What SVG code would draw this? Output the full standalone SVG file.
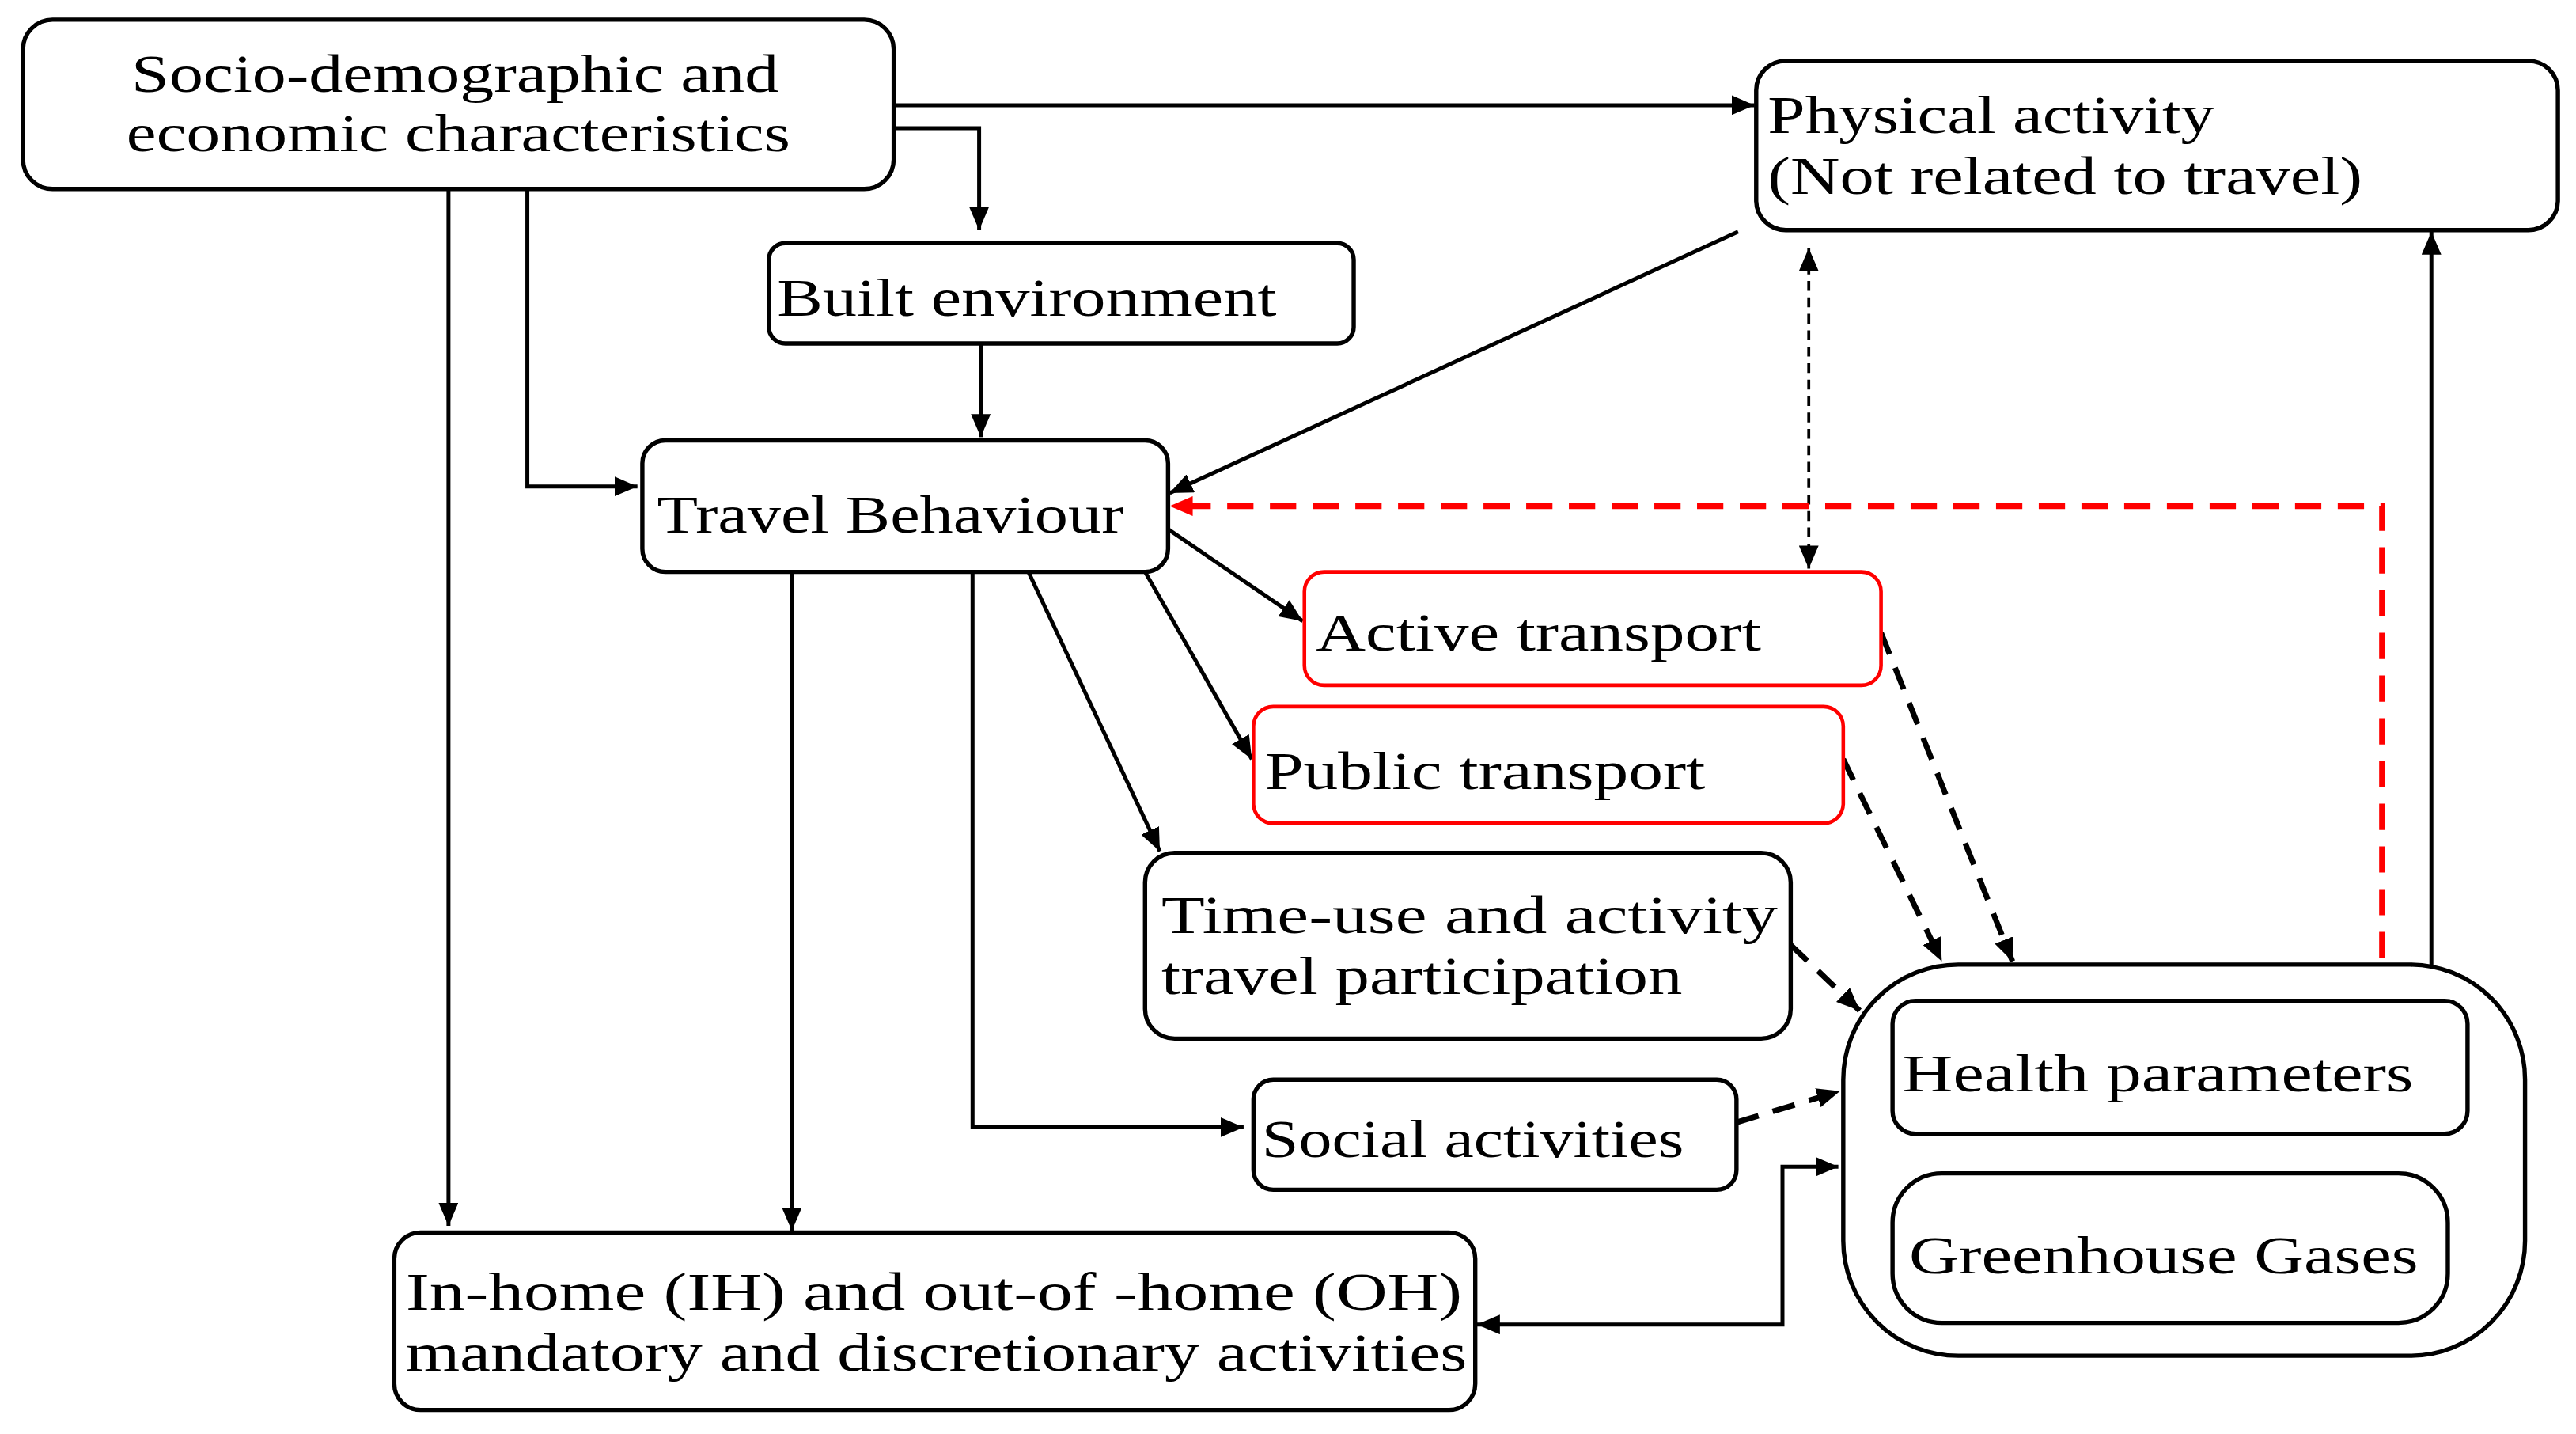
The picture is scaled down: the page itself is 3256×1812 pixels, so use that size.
<svg xmlns="http://www.w3.org/2000/svg" width="3256" height="1812" viewBox="0 0 3256 1812">
<defs>
<style>
.n{fill:#fff;stroke:#000;stroke-width:2.6}
.r{fill:#fff;stroke:#f00;stroke-width:2.2}
.t{font-family:"Liberation Serif","DejaVu Serif",serif;font-size:33px;fill:#000}
.c{fill:none;stroke:#000;stroke-width:2.4}
.d{fill:none;stroke:#000;stroke-width:3.4;stroke-dasharray:14 9}
.dt{fill:none;stroke:#000;stroke-width:1.8;stroke-dasharray:6 4}
.rd{fill:none;stroke:#f00;stroke-width:3.6;stroke-dasharray:16 10}
</style>
<marker id="a" viewBox="0 0 14 12" refX="14" refY="6" markerWidth="14" markerHeight="12" markerUnits="userSpaceOnUse" orient="auto-start-reverse"><path d="M0,0L14,6L0,12z" fill="#000"/></marker>
<marker id="ar" viewBox="0 0 14 12" refX="14" refY="6" markerWidth="14" markerHeight="12" markerUnits="userSpaceOnUse" orient="auto"><path d="M0,0L14,6L0,12z" fill="#f00"/></marker>
</defs>
<rect width="3256" height="1812" fill="#fff"/>
<g transform="scale(2.0765)">
<g id="connectors">
<path class="c" d="M544,64H1068" marker-end="url(#a)"/>
<path class="c" d="M544,78H596V140" marker-end="url(#a)"/>
<path class="c" d="M597,209V266" marker-end="url(#a)"/>
<path class="c" d="M321,116V296H388" marker-end="url(#a)"/>
<path class="c" d="M273,116V746" marker-end="url(#a)"/>
<path class="c" d="M1058,141L712,300" marker-end="url(#a)"/>
<path class="dt" d="M1101,151V346" marker-start="url(#a)" marker-end="url(#a)"/>
<path class="c" d="M1480,141V608" marker-start="url(#a)" marker-end="url(#a)"/>
<path class="rd" d="M1450,609V308H712" marker-end="url(#ar)"/>
<path class="c" d="M711,322L793,378" marker-end="url(#a)"/>
<path class="c" d="M697,348L762,462" marker-end="url(#a)"/>
<path class="c" d="M626,348L706,518" marker-end="url(#a)"/>
<path class="c" d="M592,348V686H757" marker-end="url(#a)"/>
<path class="c" d="M482,348V749" marker-end="url(#a)"/>
<path class="d" d="M1145,385L1225,585" marker-end="url(#a)"/>
<path class="d" d="M1122,462L1182,585" marker-end="url(#a)"/>
<path class="d" d="M1090,575L1132,615" marker-end="url(#a)"/>
<path class="d" d="M1057,683L1120,664" marker-end="url(#a)"/>
<path class="c" d="M899,806H1085V710H1119" marker-start="url(#a)" marker-end="url(#a)"/>
</g>
<g id="socio"><rect class="n" x="14" y="12" width="530" height="103" rx="18"/>
<text class="t" x="80" y="56" textLength="394" lengthAdjust="spacingAndGlyphs">Socio-demographic and</text>
<text class="t" x="77" y="92" textLength="404" lengthAdjust="spacingAndGlyphs">economic characteristics</text></g>
<g id="physical"><rect class="n" x="1069" y="37" width="488" height="103" rx="18"/>
<text class="t" x="1076" y="81" textLength="272" lengthAdjust="spacingAndGlyphs">Physical activity</text>
<text class="t" x="1076" y="118" textLength="362" lengthAdjust="spacingAndGlyphs">(Not related to travel)</text></g>
<g id="built"><rect class="n" x="468" y="148" width="356" height="61" rx="10"/>
<text class="t" x="473" y="192" textLength="304" lengthAdjust="spacingAndGlyphs">Built environment</text></g>
<g id="travel"><rect class="n" x="391" y="268" width="320" height="80" rx="14"/>
<text class="t" x="400" y="324" textLength="284" lengthAdjust="spacingAndGlyphs">Travel Behaviour</text></g>
<g id="active"><rect class="r" x="794" y="348" width="351" height="69" rx="12"/>
<text class="t" x="801" y="396" textLength="271" lengthAdjust="spacingAndGlyphs">Active transport</text></g>
<g id="public"><rect class="r" x="763" y="430" width="359" height="71" rx="12"/>
<text class="t" x="770" y="480" textLength="268" lengthAdjust="spacingAndGlyphs">Public transport</text></g>
<g id="timeuse"><rect class="n" x="697" y="519" width="393" height="113" rx="18"/>
<text class="t" x="707" y="568" textLength="375" lengthAdjust="spacingAndGlyphs">Time-use  and  activity</text>
<text class="t" x="707" y="605" textLength="317" lengthAdjust="spacingAndGlyphs">travel participation</text></g>
<g id="social"><rect class="n" x="763" y="657" width="294" height="67" rx="12"/>
<text class="t" x="768" y="704" textLength="257" lengthAdjust="spacingAndGlyphs">Social activities</text></g>
<g id="inhome"><rect class="n" x="240" y="750" width="658" height="108" rx="16"/>
<text class="t" x="247" y="797" textLength="643" lengthAdjust="spacingAndGlyphs">In-home  (IH)  and  out-of  -home  (OH)</text>
<text class="t" x="247" y="834" textLength="646" lengthAdjust="spacingAndGlyphs">mandatory and discretionary activities</text></g>
<g id="outcomes"><rect class="n" x="1122" y="587" width="415" height="238" rx="70"/></g>
<g id="health"><rect class="n" x="1152" y="609" width="350" height="81" rx="14"/>
<text class="t" x="1158" y="664" textLength="311" lengthAdjust="spacingAndGlyphs">Health parameters</text></g>
<g id="ghg"><rect class="n" x="1152" y="714" width="338" height="91" rx="30"/>
<text class="t" x="1162" y="775" textLength="310" lengthAdjust="spacingAndGlyphs">Greenhouse Gases</text></g>
</g>
</svg>
